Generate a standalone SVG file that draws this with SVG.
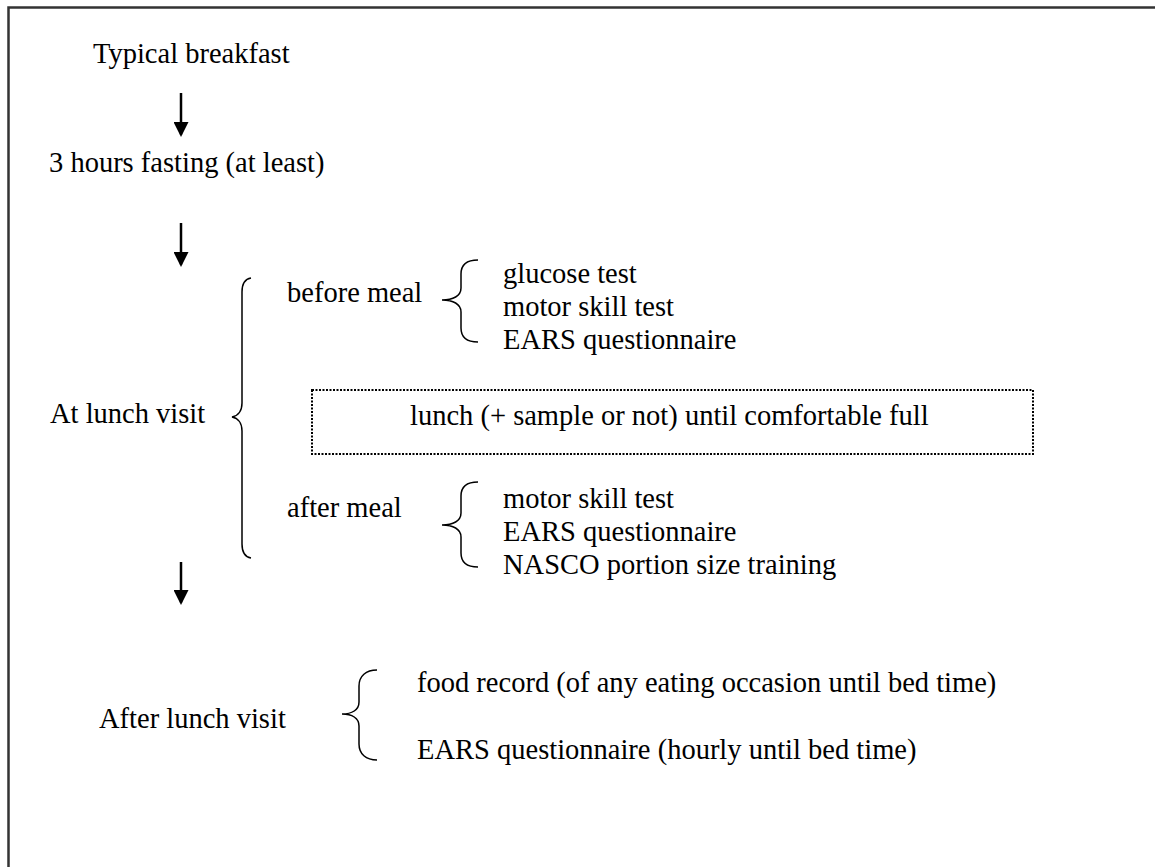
<svg xmlns="http://www.w3.org/2000/svg" width="1155" height="867" viewBox="0 0 1155 867">
<style>
text{font-family:"Liberation Serif","Times New Roman",serif;font-size:28.5px;fill:#000}
.br{fill:none;stroke:#000;stroke-width:1.5}
.ar{stroke:#000;stroke-width:2.5}
</style>
<defs>
<marker id="ah" markerWidth="6" markerHeight="6" refX="5" refY="3" orient="auto" markerUnits="strokeWidth">
<path d="M0,0 L6,3 L0,6 Z" fill="#000"/>
</marker>
</defs>
<rect x="0" y="0" width="1155" height="867" fill="#fff"/>
<path d="M8.5,867 L8.5,7.5 L1155,7.5" fill="none" stroke="#333" stroke-width="2.5"/>
<g id="connectors">
<line class="ar" x1="181" y1="93" x2="181" y2="134.5" marker-end="url(#ah)"/>
<line class="ar" x1="181" y1="223" x2="181" y2="264.5" marker-end="url(#ah)"/>
<line class="ar" x1="181" y1="562" x2="181" y2="602.5" marker-end="url(#ah)"/>
</g>
<g id="n-breakfast"><text x="93" y="63">Typical breakfast</text></g>
<g id="n-fasting"><text x="49" y="172">3 hours fasting (at least)</text></g>
<g id="n-lunchvisit">
<text x="50" y="423">At lunch visit</text>
<path class="br" d="M251,278 C245,279 242,284 242,292 L242,403 C242,411 238,416 232,417 C238,418 242,423 242,431 L242,544 C242,552 245,557 251,558"/>
</g>
<g id="n-before">
<text x="287" y="302">before meal</text>
<path class="br" d="M478,260 C467,260 461,265 461,274 L461,288 C461,296 453,300 442,300 C453,300 461,304 461,312 L461,328 C461,337 467,342 478,342"/>
<text x="503" y="283">glucose test</text>
<text x="503" y="316">motor skill test</text>
<text x="503" y="349">EARS questionnaire</text>
</g>
<g id="n-lunch">
<rect x="312" y="390" width="721" height="64" fill="none" stroke="#000" stroke-width="2" stroke-dasharray="2,1.5"/>
<text x="410" y="425">lunch (+ sample or not) until comfortable full</text>
</g>
<g id="n-after">
<text x="287" y="517">after meal</text>
<path class="br" d="M478,482 C467,482 461,487 461,496 L461,513 C461,521 453,525 442,525 C453,525 461,529 461,537 L461,553 C461,562 467,567 478,567"/>
<text x="503" y="508">motor skill test</text>
<text x="503" y="541">EARS questionnaire</text>
<text x="503" y="574">NASCO portion size training</text>
</g>
<g id="n-afterlunch">
<text x="99" y="728">After lunch visit</text>
<path class="br" d="M377,670 C366,670 359,676 359,686 L359,702 C359,710 352,714 342,714 C352,714 359,718 359,726 L359,744 C359,754 366,760 377,760"/>
<text x="417" y="692">food record (of any eating occasion until bed time)</text>
<text x="417" y="759">EARS questionnaire (hourly until bed time)</text>
</g>
</svg>
